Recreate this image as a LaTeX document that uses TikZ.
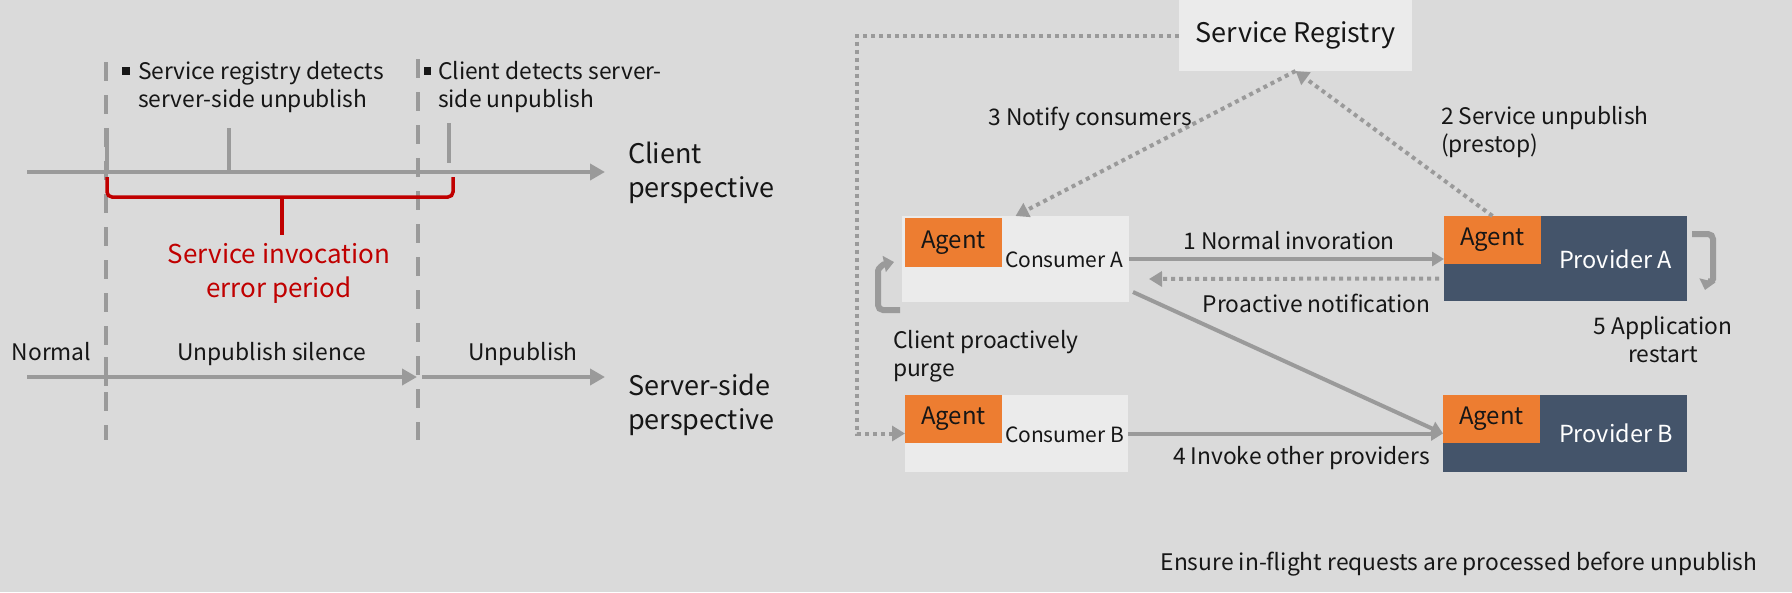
\documentclass[tikz,border=0pt]{standalone}
\usepackage{fontspec}
\setmainfont{Noto Sans CJK SC}
\usetikzlibrary{arrows.meta,calc}
\definecolor{bg}{HTML}{DADADA}
\definecolor{boxl}{HTML}{EBEBEB}
\definecolor{orng}{HTML}{ED7D31}
\definecolor{slate}{HTML}{44546A}
\definecolor{lgray}{HTML}{9A9A9A}
\definecolor{redd}{HTML}{C00000}
\definecolor{ink}{HTML}{161616}
\newcommand{\fbig}{\fontsize{27}{34}\selectfont}
\newcommand{\fmed}{\fontsize{22.8}{28}\selectfont}
\newcommand{\fagt}{\fontsize{24}{30}\selectfont}
\newcommand{\fcon}{\fontsize{21}{28}\selectfont}
\newcommand{\fprv}{\fontsize{23.5}{30}\selectfont}
\newcommand{\fredt}{\fontsize{26}{34}\selectfont}
\begin{document}
\begin{tikzpicture}[x=1pt,y=-1pt,
  every node/.style={inner sep=0pt,outer sep=0pt,text=ink},
  lbl/.style={font=\fmed},
  big/.style={font=\fbig},
  regbox/.style={fill=boxl,minimum width=233pt,minimum height=71pt,anchor=north west,font=\fbig},
  lbox/.style={fill=boxl,anchor=north west},
  dbox/.style={fill=slate,anchor=north west},
  agentbox/.style={fill=orng,anchor=north west,minimum width=97pt,minimum height=48pt,font=\fagt},
  ax/.style={draw=lgray,line width=4pt,-{Triangle[length=15pt,width=16pt]}},
  dashline/.style={draw=lgray,line width=4pt,dash pattern=on 19pt off 14pt},
  tickline/.style={draw=lgray,line width=4pt},
  brace/.style={draw=redd,line width=3.5pt,rounded corners=5pt},
  conn/.style={draw=lgray,line width=4pt,-{Triangle[length=12pt,width=14pt]}},
  dconn/.style={draw=lgray,line width=4pt,dash pattern=on 4pt off 4pt,-{Triangle[length=13pt,width=15pt]}},
  loopline/.style={draw=lgray,line width=6pt,rounded corners=5pt,-{Triangle[length=10pt,width=16pt]}}
]
\useasboundingbox (0,0) rectangle (1792,592);
\fill[bg] (0,0) rectangle (1792,592);

% ---------------- left timeline ----------------
\coordinate (d1t) at (106,62);  \coordinate (d1b) at (106,440);
\coordinate (d2t) at (418,59);  \coordinate (d2b) at (418,440);
\draw[dashline] (d1t) -- (d1b);
\draw[dashline] (d2t) -- (d2b);

\coordinate (ca0) at (27,172); \coordinate (ca1) at (605,172);
\draw[ax] (ca0) -- (ca1);
\coordinate (t1a) at (107,128); \coordinate (t1b) at (107,172);
\coordinate (t2a) at (229,128); \coordinate (t2b) at (229,172);
\coordinate (t3a) at (449,123); \coordinate (t3b) at (449,163);
\draw[tickline] (t1a) -- (t1b);
\draw[tickline] (t2a) -- (t2b);
\draw[tickline] (t3a) -- (t3b);

\coordinate (br1) at (107,177); \coordinate (br2) at (453,177);
\coordinate (brm) at (282,197); \coordinate (brs) at (282,235);
\draw[brace] (br1) -- (107,197) -- (453,197) -- (br2);
\draw[brace] (brm) -- (brs);
\node[anchor=base,align=center,font=\fredt,text=redd] (err) at (279,297) {Service invocation\\error period};

\fill[ink] (122,67) rectangle (130,75);
\node[anchor=base west,align=left,lbl] (b1) at (138,107) {Service registry detects\\server-side unpublish};
\fill[ink] (424,67) rectangle (431,75);
\node[anchor=base west,align=left,lbl] (b2) at (438,107) {Client detects server-\\side unpublish};

\node[anchor=base west,align=left,big] (cp) at (628,197) {Client\\perspective};

\coordinate (sa0) at (27,377); \coordinate (sa1) at (417,377);
\coordinate (sa2) at (422,377); \coordinate (sa3) at (605,377);
\draw[ax] (sa0) -- (sa1);
\draw[ax] (sa2) -- (sa3);
\coordinate (st1) at (106,357); \coordinate (st2) at (106,386);
\draw[tickline] (st1) -- (st2);
\node[anchor=base,lbl] (nrm) at (51.5,360) {Normal};
\node[anchor=base,lbl] (ups) at (271.5,360) {Unpublish silence};
\node[anchor=base,lbl] (up) at (523,360) {Unpublish};
\node[anchor=base west,align=left,big] (sp) at (628,429) {Server-side\\perspective};

% ---------------- right diagram ----------------
\node[regbox] (reg) at (1179,0) {Service Registry};

\node[lbox,minimum width=227pt,minimum height=86pt] (consA) at (902,216) {};
\node[agentbox,minimum height=49pt] (agA) at (905,218) {Agent};
\node[anchor=base west,font=\fcon] (cAt) at (1005,267) {Consumer A};

\node[lbox,minimum width=223pt,minimum height=77pt] (consB) at (905,395) {};
\node[agentbox] (agB) at (905,395) {Agent};
\node[anchor=base west,font=\fcon] (cBt) at (1005,442) {Consumer B};

\node[dbox,minimum width=243pt,minimum height=85pt] (pA) at (1444,216) {};
\node[agentbox] (agPA) at (1444,216) {Agent};
\node[anchor=base west,font=\fprv,text=white] (pAt) at (1559,268) {Provider A};

\node[dbox,minimum width=244pt,minimum height=77pt] (pB) at (1443,395) {};
\node[agentbox] (agPB) at (1443,395) {Agent};
\node[anchor=base west,font=\fprv,text=white] (pBt) at (1559,442) {Provider B};

% connectors
\draw[conn] (consA.east) -- (consA.east -| pA.west);
\draw[dconn] ($(pA.west)+(-5,20)$) -- ($(consA.east)+(20,20)$);
\draw[conn] ($(consA.south east)+(4,-10)$) -- (pB.west);
\draw[conn] (consB.east) -- (pB.west);
\draw[dconn] (reg.south) -- (consA.north);
\draw[dconn] (agPA.north) -- (reg.south);
\coordinate (lc) at (857,0);
\draw[dconn] (reg.west) -- (reg.west -| lc) -- (lc |- consB.west) -- (consB.west);

% loops
\coordinate (pl0) at (900,310);
\coordinate (pl1) at (894,262);
\draw[loopline] (pl0) -- (878,310) -- (878,276) .. controls (878,268) and (884,264) .. (pl1);
\coordinate (rl0) at (1692,234);
\coordinate (rl1) at (1705,290);
\draw[loopline] (rl0) -- (1713,234) -- (1713,274) .. controls (1713,282) and (1707,282) .. (rl1);

% labels
\node[anchor=base,lbl] (l1) at (1289,249) {1 Normal invoration};
\node[anchor=base,lbl] (lp) at (1316.5,312) {Proactive notification};
\node[anchor=base,lbl] (l4) at (1301.5,464) {4 Invoke other providers};
\node[anchor=base,lbl] (l3) at (1090,125) {3 Notify consumers};
\node[anchor=base west,align=left,lbl] (l2) at (1441,152) {2 Service unpublish\\(prestop)};
\node[anchor=base west,align=left,lbl] (lpg) at (893,376) {Client proactively\\purge};
\node[anchor=base,align=center,lbl] (l5) at (1663,362) {5 Application\\restart};
\node[anchor=base,lbl] (ens) at (1459,570) {Ensure in-flight requests are processed before unpublish};
\end{tikzpicture}
\end{document}
